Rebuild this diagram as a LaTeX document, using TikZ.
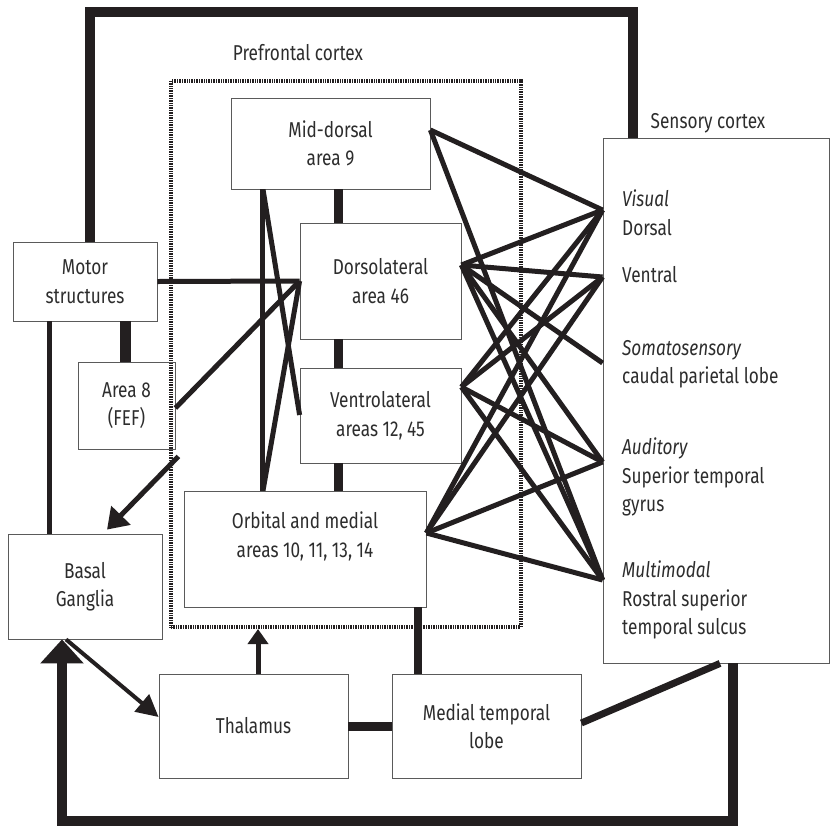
\documentclass[tikz,border=0pt]{standalone}
\usepackage{fontspec}
\setmainfont{Fira Sans}[FakeStretch=0.8]
\usepackage{tikz}
\usetikzlibrary{arrows.meta, positioning, calc}
\definecolor{NetInk}{RGB}{35, 31, 32}
\definecolor{NetEdge}{RGB}{90, 90, 90}
\definecolor{NetText}{RGB}{45, 45, 45}

\begin{document}
\begin{tikzpicture}[x=1pt,y=-1pt,
  box/.style={draw=NetEdge, line width=0.8pt, align=center, inner sep=0pt,
    text=NetText, font=\fontsize{21.5}{28.5}\selectfont},
  tag/.style={text=NetText, inner sep=0pt, font=\fontsize{21.5}{28.5}\selectfont},
  link/.style={NetInk, line width=5pt},
  heavy/.style={NetInk, line width=9pt},
  frame/.style={NetInk, line width=9.5pt, line join=miter}]
  \path[use as bounding box] (0,0) rectangle (830,831);
  \fill[white] (0,0) rectangle (830,831);
  % prefrontal outline
  \node[draw=NetInk, line width=4pt, dash pattern=on 0.8pt off 0.9pt,
    minimum width=350pt, minimum height=546pt, inner sep=0pt] (pfc) at (346,354) {};
  \node[tag] (pfclabel) at (298,53) {Prefrontal cortex};
  \node[tag] (senslabel) at (708,123) {Sensory cortex};
  % boxes
  \node[box, minimum width=144pt, minimum height=79pt] (motor) at (85,281.5) {Motor\\structures};
  \node[box, minimum width=97pt, minimum height=87pt] (area8) at (126.5,405.5) {Area 8\\(FEF)};
  \node[box, minimum width=154pt, minimum height=105pt] (basal) at (85,586.5) {Basal\\Ganglia};
  \node[box, minimum width=199pt, minimum height=91pt] (middorsal) at (330.5,143.5) {Mid-dorsal\\area 9};
  \node[box, minimum width=161pt, minimum height=116pt] (dorsolat) at (380.5,281) {Dorsolateral\\area 46};
  \node[box, minimum width=161pt, minimum height=95pt] (ventrolat) at (380.5,415.5) {Ventrolateral\\areas 12, 45};
  \node[box, minimum width=242pt, minimum height=116pt] (orbital) at (305,549) {Orbital and medial\\areas 10, 11, 13, 14\\\mbox{}};
  \node[box, minimum width=189pt, minimum height=104pt] (thalamus) at (253.5,726) {Thalamus};
  \node[box, minimum width=189pt, minimum height=104pt] (medial) at (486.5,726) {Medial temporal\\lobe};
  \node[box, minimum width=226pt, minimum height=525pt] (sensory) at (716,400.5) {};
  \node[tag, align=left, anchor=north west] (senstext) at (622,190) {%
    \textit{Visual}\\Dorsal\\[18.5pt]Ventral\\[44.5pt]\textit{Somatosensory}\\caudal parietal lobe\\[42.5pt]%
    \textit{Auditory}\\Superior temporal\\gyrus\\[37.5pt]\textit{Multimodal}\\Rostral superior\\temporal sulcus};
  % ports
  \coordinate (pM) at (middorsal.east |- 0,130);
  \coordinate (pD) at (dorsolat.east |- 0,265);
  \coordinate (pV) at (ventrolat.east |- 0,387);
  \coordinate (pO) at (orbital.east |- 0,533);
  \coordinate (sVis) at (sensory.west |- 0,210);
  \coordinate (sVen) at (sensory.west |- 0,277);
  \coordinate (sSom) at (sensory.west |- 0,363);
  \coordinate (sAud) at (sensory.west |- 0,462);
  \coordinate (sMul) at (sensory.west |- 0,580);
  % prefrontal to sensory
  \foreach \a/\b in {pM/sVis, pM/sMul, pD/sVis, pD/sVen, pD/sSom, pD/sAud, pD/sMul,
    pV/sVis, pV/sVen, pV/sAud, pV/sMul, pO/sVis, pO/sVen, pO/sAud, pO/sMul}{
    \draw[link] (\a) -- (\b);
  }
  % within prefrontal
  \draw[heavy] (middorsal.south -| 338,0) -- (dorsolat.north -| 338,0);
  \draw[heavy] (dorsolat.south -| 338,0) -- (ventrolat.north -| 338,0);
  \draw[heavy] (ventrolat.south -| 338,0) -- (orbital.north -| 338,0);
  \draw[link] (middorsal.south -| 262,0) -- (orbital.north -| 262,0);
  \draw[link] (middorsal.south -| 263,0) -- (ventrolat.west |- 0,415);
  \draw[link] (orbital.north -| 263,0) -- (dorsolat.west);
  % motor side
  \draw[frame] (motor.north -| 90,0) -- (90,12) -- (633,12) -- (sensory.north -| 633,0);
  \draw[link] (motor.east) -- (dorsolat.west);
  \draw[NetInk, line width=11pt] (area8.north -| 125,0) -- (motor.south -| 125,0);
  \draw[link] ([xshift=-36pt]motor.south) -- ([xshift=-36pt]basal.north);
  \draw[link] (area8.east |- 0,408) -- (dorsolat.west);
  \draw[link, -{Triangle[length=20pt,width=26pt]}] ([shift={(3,7)}]area8.south east) -- ([shift={(22,-4)}]basal.north);
  % lower loop
  \draw[link, -{Triangle[length=15pt,width=20pt]}] (thalamus.north -| 258,0) -- (pfc.south -| 258,0);
  \draw[heavy] (thalamus.east) -- (medial.west);
  \draw[NetInk, line width=7.5pt] (orbital.south -| 418,0) -- (medial.north -| 418,0);
  \draw[NetInk, line width=7pt] (medial.east |- 0,723) -- (sensory.south -| 720,0);
  \draw[NetInk, line width=4pt, -{Triangle[length=22pt,width=22pt]}] (basal.south -| 66,0) -- (thalamus.west |- 0,717);
  \draw[frame, -{Triangle[length=24pt,width=42pt]}] (sensory.south -| 733,0) -- (733,821) -- (62,821) -- (basal.south -| 62,0);
\end{tikzpicture}
\end{document}
